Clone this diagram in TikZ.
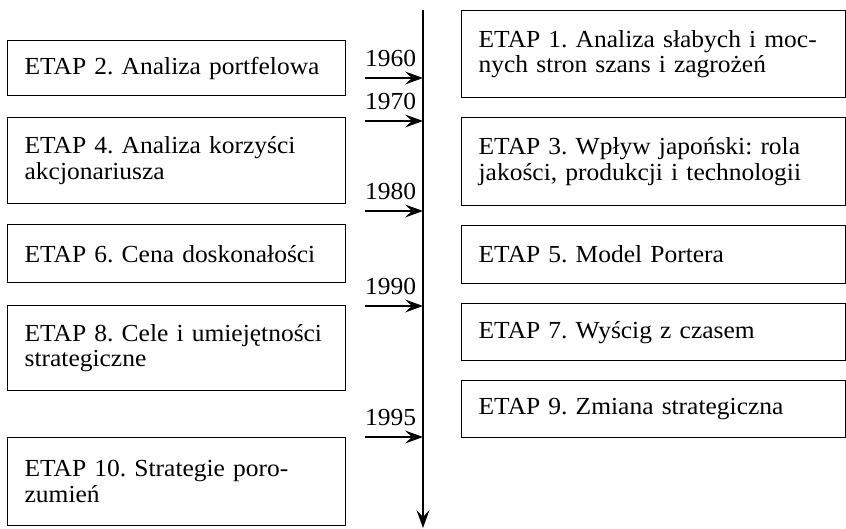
\documentclass[tikz,border=0pt]{standalone}
\usepackage{fontspec}
\setmainfont{Liberation Serif}[FakeStretch=1.04]
\usetikzlibrary{arrows.meta,positioning}
\frenchspacing
\hyphenpenalty=10000

\tikzset{
  etap/.style={draw, rectangle, line width=1.3pt, inner xsep=17pt, inner ysep=0pt,
    align=left, anchor=north west, font=\fontsize{24.5}{25.5}\selectfont},
  leftbox/.style={etap, text width=304pt, minimum width=326pt},
  rightbox/.style={etap, text width=350pt, minimum width=384pt},
  yeararrow/.style={line width=1.3pt, -{Stealth[length=18pt,width=13pt,inset=7pt]}},
  yearlabel/.style={font=\fontsize{24.5}{26}\selectfont, inner sep=2pt}
}

\begin{document}
\begin{tikzpicture}[x=1pt, y=-1pt]

  % page frame
  \useasboundingbox (0,0) rectangle (846,528);

  % time axis
  \coordinate (axtop) at (423,10);
  \coordinate (axend) at (423,528);
  \draw[yeararrow] (axtop) -- (axend);

  % stages on the left
  \node[leftbox, minimum height=55pt] (e2) at (7,40) {ETAP 2. Analiza portfelowa};
  \node[leftbox, minimum height=86pt] (e4) at (7,117) {ETAP 4. Analiza korzyści\\akcjonariusza};
  \node[leftbox, minimum height=58pt] (e6) at (7,224) {ETAP 6. Cena doskonałości};
  \node[leftbox, minimum height=85pt] (e8) at (7,305) {ETAP 8. Cele i umiejętności\\strategiczne};
  \node[leftbox, minimum height=88pt] (e10) at (7,437) {ETAP 10. Strategie poro-\\zumień};

  % stages on the right
  \node[rightbox, minimum height=87pt] (e1) at (461,10) {ETAP 1. Analiza słabych i moc-\\nych stron szans i zagrożeń};
  \node[rightbox, minimum height=88pt] (e3) at (461,117) {ETAP 3. Wpływ japoński: rola\\jakości, produkcji i technologii};
  \node[rightbox, minimum height=58pt] (e5) at (461,225) {ETAP 5. Model Portera};
  \node[rightbox, minimum height=57pt] (e7) at (461,303) {ETAP 7. Wyścig z czasem};
  \node[rightbox, minimum height=57pt] (e9) at (461,380) {ETAP 9. Zmiana strategiczna};

  % years pointing at the axis
  \foreach \yr/\ypos in {1960/78, 1970/121, 1980/211, 1990/306, 1995/437} {
    \coordinate (s\yr) at (365,\ypos);
    \coordinate (t\yr) at (423,\ypos);
    \draw[yeararrow] (s\yr) -- (t\yr);
    \node[yearlabel, above=9pt of s\yr, anchor=south west, xshift=-2pt] (l\yr) {\yr};
  }

\end{tikzpicture}
\end{document}
